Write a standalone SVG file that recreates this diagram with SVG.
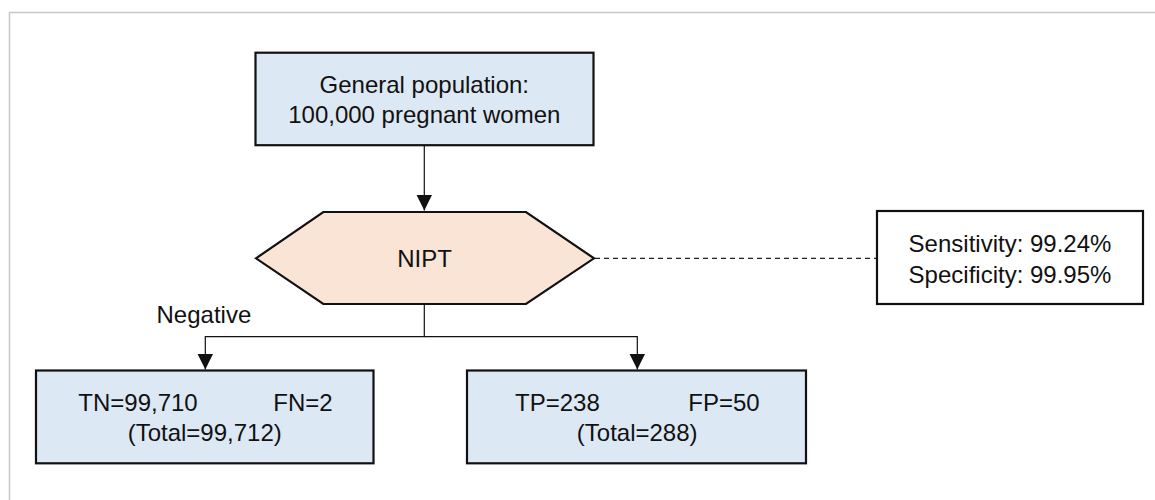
<svg xmlns="http://www.w3.org/2000/svg" width="1155" height="500" viewBox="0 0 1155 500">
<style>
text{font-family:"Liberation Sans",Arial,sans-serif;font-size:24px;fill:#111}
.mid{text-anchor:middle}
.box{fill:#dde8f5;stroke:#111;stroke-width:2.2}
.hex{fill:#fae4d6;stroke:#111;stroke-width:2.2}
.plain{fill:#fff;stroke:#111;stroke-width:2.2}
.conn{fill:none;stroke:#111;stroke-width:1.2}
.dash{fill:none;stroke:#222;stroke-width:1.3;stroke-dasharray:5 4}
</style>
<defs>
<marker id="arr" viewBox="0 0 16 16" refX="16" refY="8" markerWidth="16" markerHeight="16" markerUnits="userSpaceOnUse" orient="auto">
<path d="M0,0 L16,8 L0,16 Z" fill="#111"/>
</marker>
</defs>
<rect width="1155" height="500" fill="#fff"/>
<path d="M9.5,500 V12.5 H1155" fill="none" stroke="#c8c8c8" stroke-width="1.5"/>
<g id="connectors">
<path class="conn" d="M424.3,146 V210.5" marker-end="url(#arr)"/>
<path class="conn" d="M424.3,304 V336.7 H205.3 V369.5" marker-end="url(#arr)"/>
<path class="conn" d="M424.3,336.7 H637.3 V369.5" marker-end="url(#arr)"/>
<path class="dash" d="M595,258.3 H877"/>
</g>
<g id="population">
<rect class="box" x="255.5" y="52.7" width="338" height="92.5"/>
<text class="mid" x="424.3" y="92.7">General population:</text>
<text class="mid" x="424.3" y="123.3">100,000 pregnant women</text>
</g>
<g id="nipt">
<polygon class="hex" points="256,258.3 323.3,212 526,212 594,258.3 526,304 323.3,304"/>
<text class="mid" x="424.5" y="266.7">NIPT</text>
</g>
<g id="stats">
<rect class="plain" x="877" y="211" width="266" height="93"/>
<text class="mid" x="1010" y="251.7">Sensitivity: 99.24%</text>
<text class="mid" x="1010" y="282.5">Specificity: 99.95%</text>
</g>
<g id="negative-label">
<text x="156.5" y="322.7">Negative</text>
</g>
<g id="negative">
<rect class="box" x="36" y="370.5" width="337.5" height="92.8"/>
<text x="78.3" y="410.7">TN=99,710</text>
<text x="273.3" y="410.7">FN=2</text>
<text class="mid" x="204.7" y="440.5">(Total=99,712)</text>
</g>
<g id="positive">
<rect class="box" x="467" y="370.5" width="339" height="92.8"/>
<text x="515" y="411">TP=238</text>
<text x="688.3" y="411">FP=50</text>
<text class="mid" x="637.2" y="441">(Total=288)</text>
</g>
</svg>
